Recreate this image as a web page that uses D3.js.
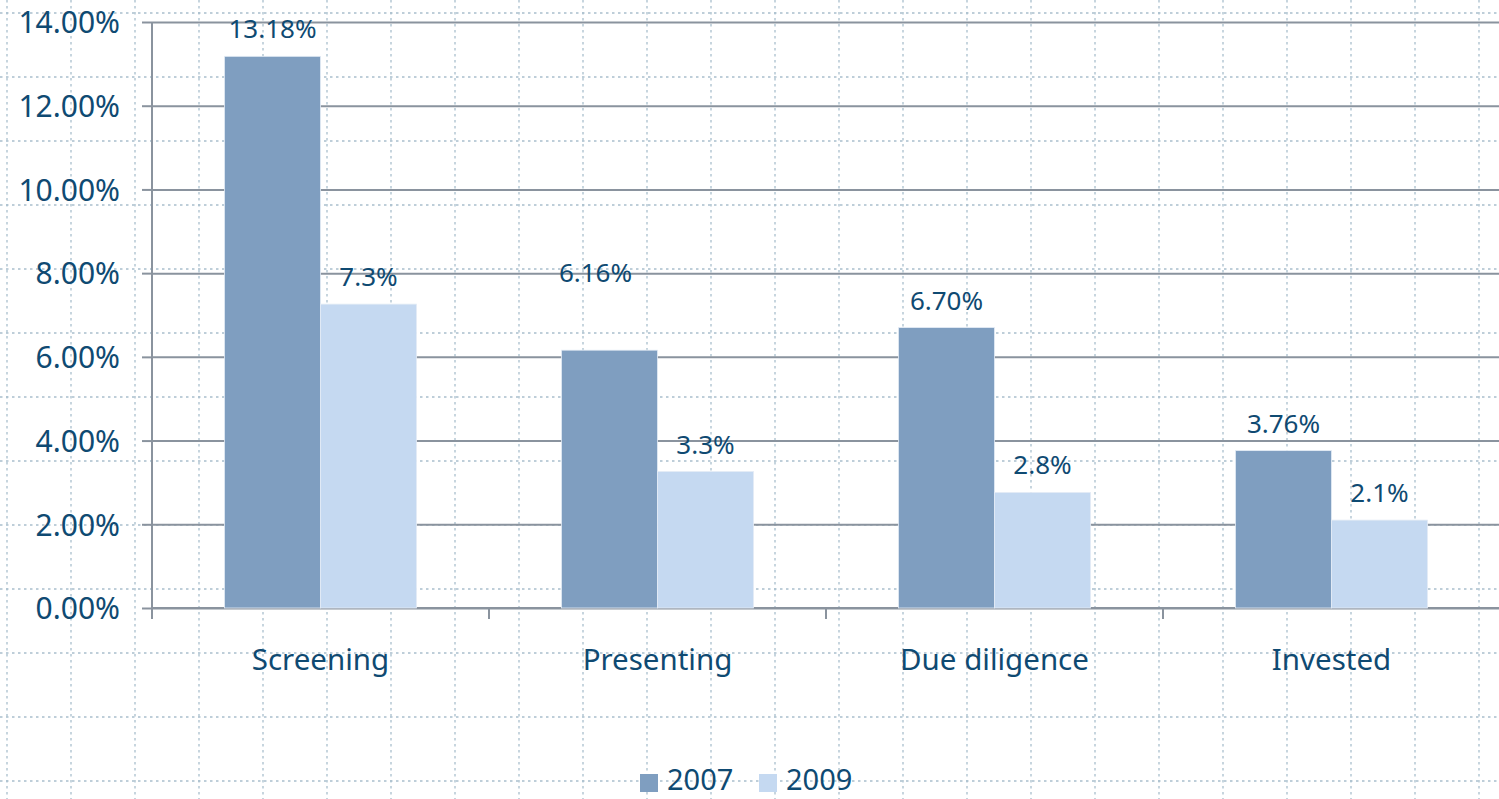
<!DOCTYPE html>
<html>
<head>
<meta charset="utf-8">
<script src="https://cdn.jsdelivr.net/npm/d3@7"></script>
<style>
    html, body { margin: 0; padding: 0; background: #fff; }
    svg { display: block; font-family: "Noto Sans", sans-serif; }
</style>
</head>
<body>
<svg id="chart" width="1499" height="799"></svg>
<script>
// chart data
const categories = ["Screening", "Presenting", "Due diligence", "Invested"];
const seriesNames = ["2007", "2009"];
const values2007 = [13.18, 6.16, 6.70, 3.76];
const values2009 = [7.26, 3.26, 2.76, 2.10];
const labels2007 = ["13.18%", "6.16%", "6.70%", "3.76%"];
const labels2009 = ["7.3%", "3.3%", "2.8%", "2.1%"];
const yTicks = [0, 2, 4, 6, 8, 10, 12, 14];

const seriesColors = { "2007": "#7f9ec0", "2009": "#c5d9f1" };
const textColor = "#0f4a72";
const lineColor = "#8a939e";

const width = 1499, height = 799;
const plot = { left: 152, right: 1500, top: 22, bottom: 608 };

const svg = d3.select("#chart");

// graph-paper background
const paper = svg.append("g").attr("class", "paper");
paper.selectAll("line.v")
    .data(d3.range(7, width, 64))
    .join("line")
    .attr("x1", d => d).attr("x2", d => d)
    .attr("y1", 0).attr("y2", height);
paper.selectAll("line.h")
    .data(d3.range(13, height, 64))
    .join("line")
    .attr("y1", d => d).attr("y2", d => d)
    .attr("x1", 0).attr("x2", width);
paper.selectAll("line")
    .attr("stroke", "#a9bfcd")
    .attr("stroke-width", 1.3)
    .attr("stroke-dasharray", "2.5,3.5");

// scales
const x0 = d3.scaleBand()
    .domain(categories)
    .range([plot.left, plot.right]);

const x1 = d3.scaleBand()
    .domain(seriesNames)
    .range([x0.bandwidth() * 0.215, x0.bandwidth() * 0.785]);

const y = d3.scaleLinear()
    .domain([0, 14])
    .range([plot.bottom, plot.top]);

// horizontal gridlines
svg.append("g")
    .attr("transform", `translate(${plot.left},0)`)
    .call(d3.axisLeft(y).tickValues(yTicks).tickSize(-(plot.right - plot.left)).tickFormat(""))
    .call(g => g.select(".domain").remove())
    .call(g => g.selectAll("line").attr("stroke", lineColor).attr("stroke-width", 2));

// y axis
svg.append("g")
    .attr("transform", `translate(${plot.left},0)`)
    .call(d3.axisLeft(y).tickValues(yTicks).tickSize(10).tickPadding(22)
        .tickFormat(d => d.toFixed(2) + "%"))
    .call(g => g.select(".domain").attr("stroke", lineColor).attr("stroke-width", 2)
        .attr("d", `M0,${plot.top}V${plot.bottom + 11}`))
    .call(g => g.selectAll("line").attr("stroke", lineColor).attr("stroke-width", 2))
    .call(g => g.selectAll("text")
        .attr("fill", textColor)
        .attr("font-size", 30)
        .attr("font-family", "Noto Sans, sans-serif")
        .attr("dy", "0.36em"));

// x axis with ticks on category boundaries
const xAxis = svg.append("g");
xAxis.append("line")
    .attr("x1", plot.left).attr("x2", plot.right)
    .attr("y1", y(0)).attr("y2", y(0))
    .attr("stroke", lineColor).attr("stroke-width", 2);
xAxis.selectAll("line.tick")
    .data(categories.map(c => x0(c)).concat([plot.right]))
    .join("line")
    .attr("class", "tick")
    .attr("x1", d => d).attr("x2", d => d)
    .attr("y1", y(0)).attr("y2", y(0) + 11)
    .attr("stroke", lineColor).attr("stroke-width", 2);
xAxis.selectAll("text")
    .data(categories)
    .join("text")
    .attr("x", d => x0(d) + x0.bandwidth() / 2)
    .attr("y", y(0) + 62)
    .attr("text-anchor", "middle")
    .attr("fill", textColor)
    .attr("font-size", 29.5)
    .text(d => d);

// bars
const rows = categories.map((c, i) => ({
    category: c,
    items: [
        { series: "2007", value: values2007[i], label: labels2007[i] },
        { series: "2009", value: values2009[i], label: labels2009[i] }
    ]
}));

const groups = svg.selectAll("g.group")
    .data(rows)
    .join("g")
    .attr("class", "group")
    .attr("transform", d => `translate(${x0(d.category)},0)`);

groups.selectAll("rect")
    .data(d => d.items)
    .join("rect")
    .attr("x", d => x1(d.series))
    .attr("y", d => y(d.value))
    .attr("width", x1.bandwidth())
    .attr("height", d => y(0) - y(d.value))
    .attr("fill", d => seriesColors[d.series])
    .attr("stroke", "#e4ecf5")
    .attr("stroke-width", 0.8);

// the 6.16% label sits out of place in the original
const labelNudge = { "Presenting|2007": [-14, -50] };

groups.selectAll("text")
    .data(d => d.items.map(it => Object.assign({ category: d.category }, it)))
    .join("text")
    .attr("x", d => x1(d.series) + x1.bandwidth() / 2 + (labelNudge[d.category + "|" + d.series] || [0, 0])[0])
    .attr("y", d => y(d.value) - 18 + (labelNudge[d.category + "|" + d.series] || [0, 0])[1])
    .attr("text-anchor", "middle")
    .attr("fill", textColor)
    .attr("font-size", 26)
    .text(d => d.label);

// legend
const legend = svg.append("g").attr("transform", "translate(640,790)");
const legendItems = legend.selectAll("g")
    .data(seriesNames)
    .join("g")
    .attr("transform", (d, i) => `translate(${i * 119},0)`);
legendItems.append("rect")
    .attr("x", 0).attr("y", -16)
    .attr("width", 18).attr("height", 18)
    .attr("fill", d => seriesColors[d]);
legendItems.append("text")
    .attr("x", 27).attr("y", 0)
    .attr("fill", textColor)
    .attr("font-size", 29)
    .text(d => d);
</script>
</body>
</html>
